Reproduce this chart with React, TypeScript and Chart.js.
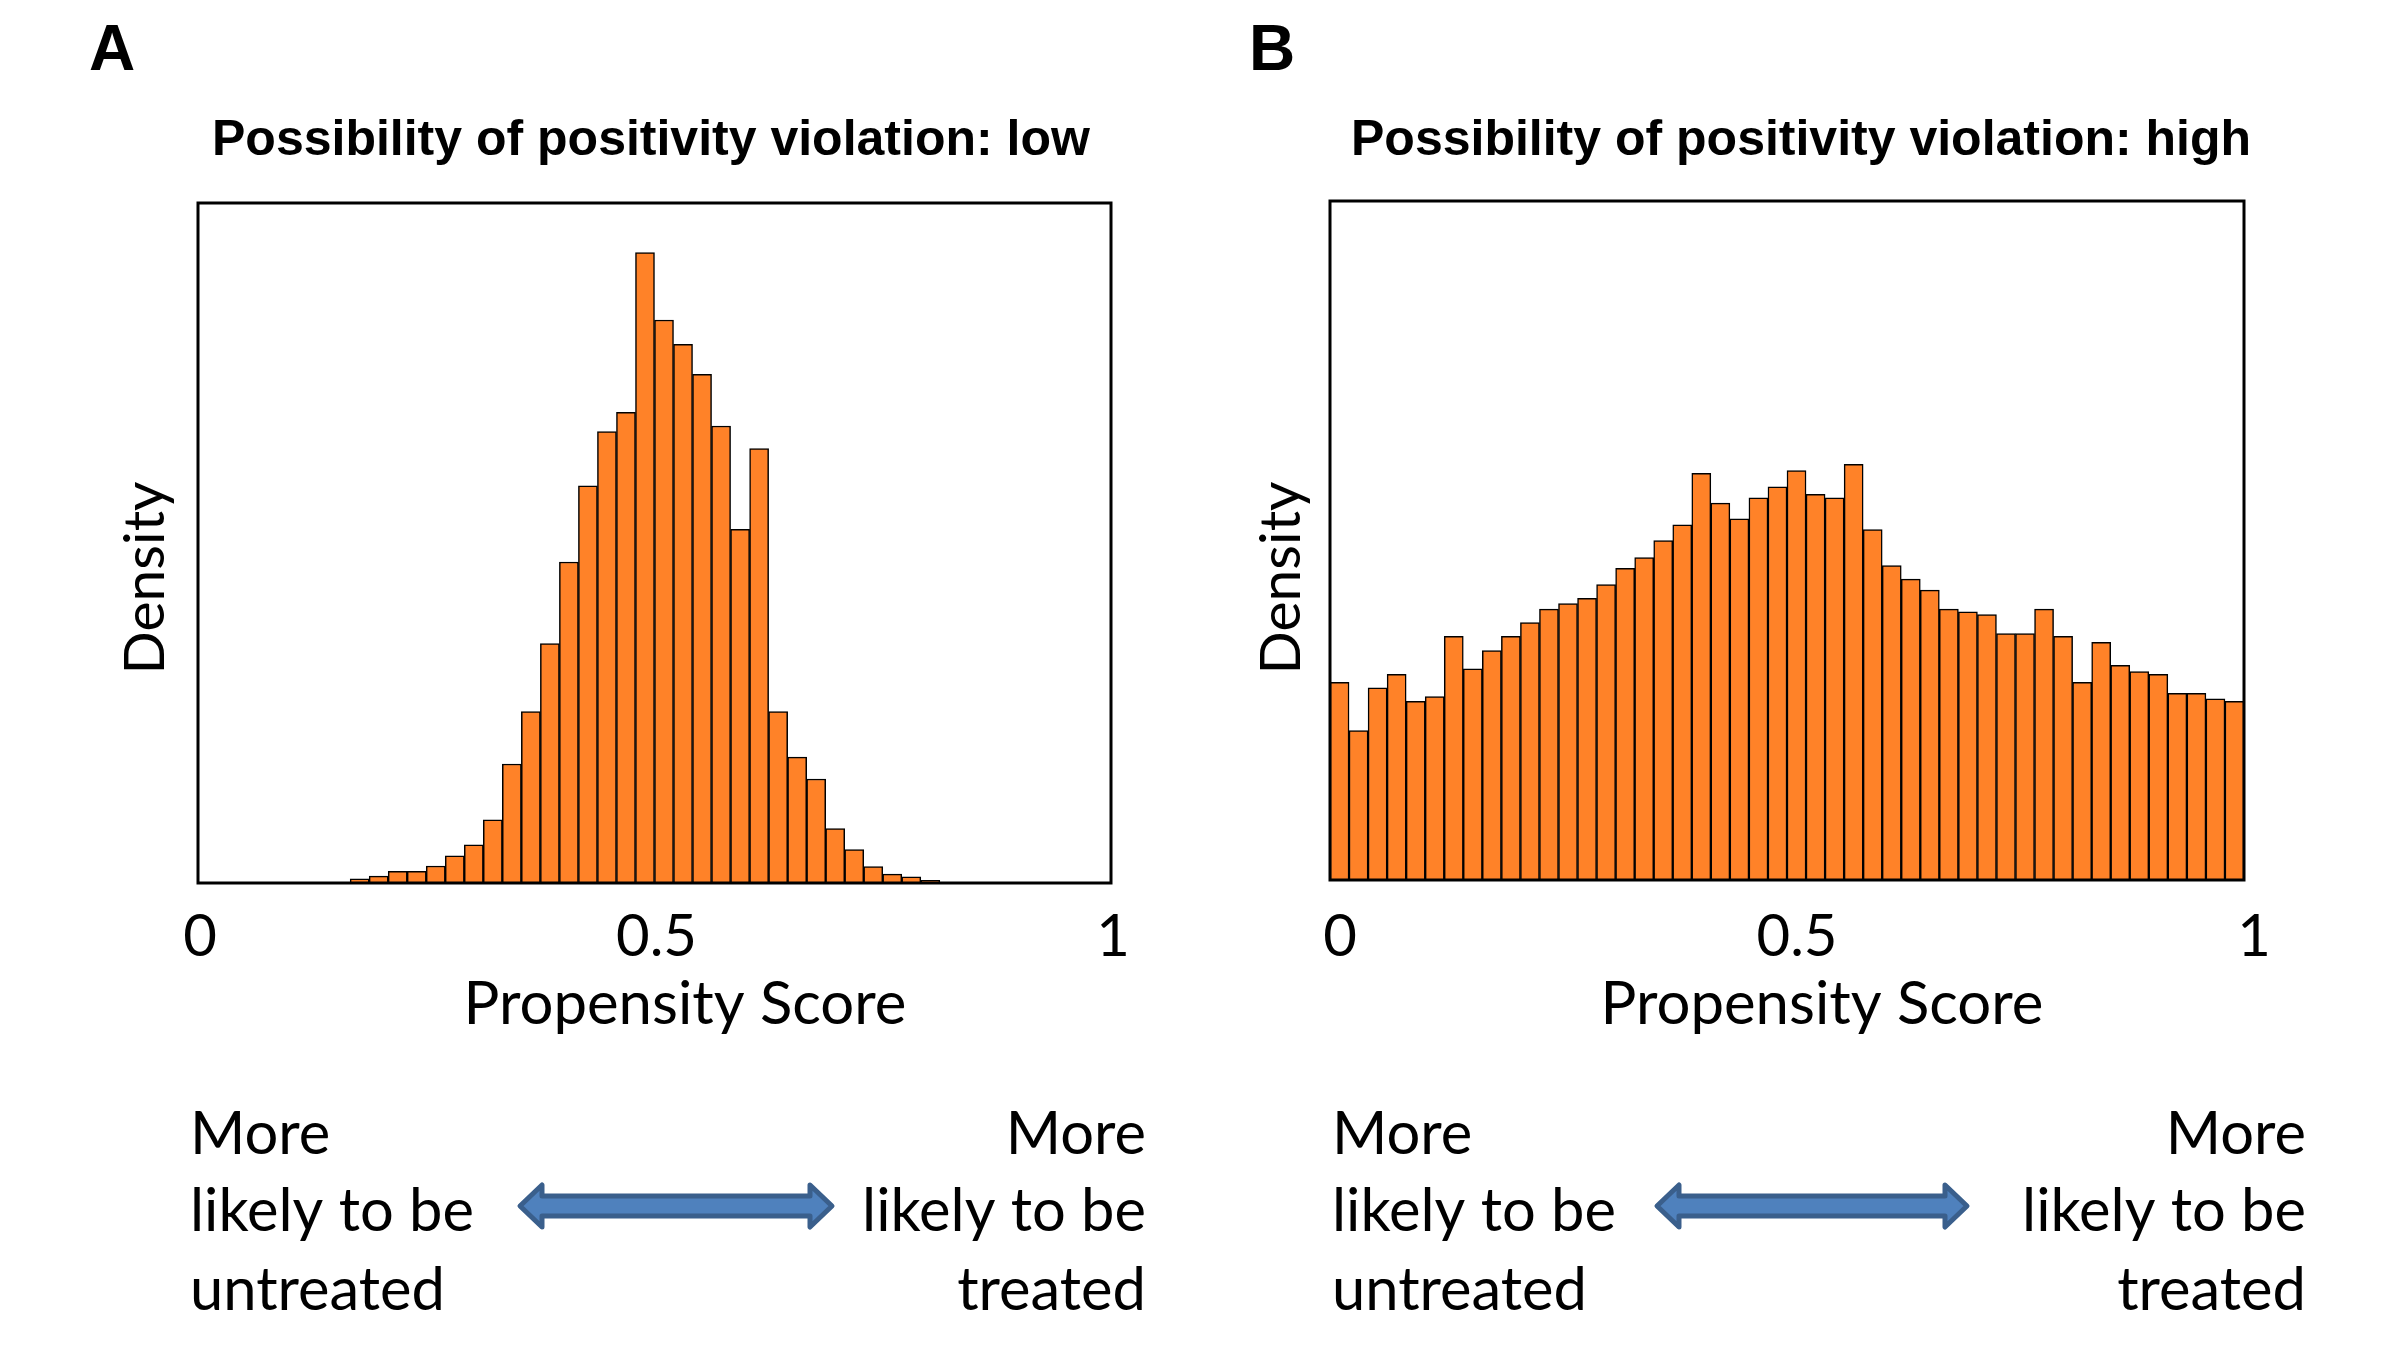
import React, { useEffect, useRef } from "react";
import { Chart, registerables } from "chart.js";

Chart.register(...registerables);

// ---------------- data ----------------
const BIN_WIDTH = 1 / 48;
const xTickValues = [0, 0.5, 1];
const xTickLabels = ["0", "0.5", "1"];

// density (relative to axis height) of each of the 48 bins, panel A
const lowViolationDensity = [
  0, 0, 0, 0, 0, 0, 0, 0,
  0.006, 0.01, 0.017, 0.017, 0.025, 0.04, 0.056, 0.093,
  0.175, 0.252, 0.352, 0.472, 0.584, 0.664, 0.692, 0.927,
  0.828, 0.792, 0.748, 0.672, 0.52, 0.639, 0.252, 0.185,
  0.153, 0.08, 0.049, 0.024, 0.013, 0.009, 0.004, 0,
  0, 0, 0, 0, 0, 0, 0, 0,
];

// panel B
const highViolationDensity = [
  0.291, 0.22, 0.283, 0.303, 0.263, 0.27, 0.359, 0.311,
  0.338, 0.359, 0.379, 0.399, 0.407, 0.415, 0.435, 0.459,
  0.475, 0.5, 0.523, 0.599, 0.555, 0.532, 0.563, 0.579,
  0.603, 0.568, 0.563, 0.612, 0.516, 0.463, 0.443, 0.427,
  0.399, 0.395, 0.391, 0.363, 0.363, 0.399, 0.359, 0.291,
  0.35, 0.316, 0.307, 0.303, 0.275, 0.275, 0.267, 0.263,
];

const panelLetters = ["A", "B"];
const panelTitles = [
  "Possibility of positivity violation: low",
  "Possibility of positivity violation: high",
];
const xAxisTitle = "Propensity Score";
const yAxisTitle = "Density";
const leftNoteLines = ["More", "likely to be", "untreated"];
const rightNoteLines = ["More", "likely to be", "treated"];

// ---------------- styling ----------------
const BAR_FILL = "#FF8228";
const ARROW_FILL = "#4F81BD";
const ARROW_STROKE = "#3A5F8C";
const HUMANIST = 'Lato, "Open Sans", sans-serif';
const ARIAL = '"Liberation Sans", Arial, sans-serif';

const CANVAS_W = 1196;
const CANVAS_H = 1350;

function fitFont(ctx: CanvasRenderingContext2D, text: string, target: number, family: string) {
  ctx.font = `100px ${family}`;
  const w = ctx.measureText(text).width;
  return (100 * target) / w;
}

function drawArrow(ctx: CanvasRenderingContext2D, x0: number, x1: number, cy: number) {
  const hh = 21;
  const sh = 10;
  const hl = 22;
  const a = x0 + 3;
  const b = x1 - 3;
  ctx.beginPath();
  ctx.moveTo(a, cy);
  ctx.lineTo(a + hl, cy - hh);
  ctx.lineTo(a + hl, cy - sh);
  ctx.lineTo(b - hl, cy - sh);
  ctx.lineTo(b - hl, cy - hh);
  ctx.lineTo(b, cy);
  ctx.lineTo(b - hl, cy + hh);
  ctx.lineTo(b - hl, cy + sh);
  ctx.lineTo(a + hl, cy + sh);
  ctx.lineTo(a + hl, cy + hh);
  ctx.closePath();
  ctx.fillStyle = ARROW_FILL;
  ctx.fill();
  ctx.lineWidth = 5;
  ctx.lineJoin = "round";
  ctx.strokeStyle = ARROW_STROKE;
  ctx.stroke();
}

const annotatePlugin = {
  id: "annotate",
  afterDatasetsDraw(chart: any) {
    const { ctx, chartArea } = chart;
    ctx.save();
    ctx.strokeStyle = "#000";
    ctx.lineWidth = 3;
    ctx.strokeRect(chartArea.left, chartArea.top, chartArea.right - chartArea.left, chartArea.bottom - chartArea.top);
    ctx.restore();
  },
  afterDraw(chart: any, _args: any, o: any) {
    const ctx: CanvasRenderingContext2D = chart.ctx;
    ctx.save();
    ctx.fillStyle = "#000";
    ctx.textBaseline = "alphabetic";

    // panel letter
    ctx.textAlign = "left";
    ctx.font = `bold 64px ${ARIAL}`;
    ctx.fillText(o.letter, o.letterX, 70);

    // title
    ctx.font = `bold 50px ${ARIAL}`;
    ctx.fillText(o.title, o.titleX, 155);

    // y axis title (rotated)
    const ySize = fitFont(ctx, yAxisTitle, 193, HUMANIST);
    ctx.save();
    ctx.translate(o.yTitleX, 578);
    ctx.rotate(-Math.PI / 2);
    ctx.textAlign = "center";
    ctx.font = `${ySize}px ${HUMANIST}`;
    ctx.fillText(yAxisTitle, 0, 0);
    ctx.restore();

    // x axis title
    const xSize = fitFont(ctx, xAxisTitle, 443, HUMANIST);
    ctx.textAlign = "center";
    ctx.font = `${xSize}px ${HUMANIST}`;
    ctx.fillText(xAxisTitle, o.xTitleX, 1024);

    // notes
    const nSize = fitFont(ctx, "likely to be", 284, HUMANIST);
    ctx.font = `${nSize}px ${HUMANIST}`;
    const baselines = [1154, 1231, 1310];
    ctx.textAlign = "left";
    leftNoteLines.forEach((t, i) => ctx.fillText(t, o.noteLeftX, baselines[i]));
    ctx.textAlign = "right";
    rightNoteLines.forEach((t, i) => ctx.fillText(t, o.noteRightX, baselines[i]));

    drawArrow(ctx, o.arrowX0, o.arrowX1, 1206);
    ctx.restore();
  },
};

type PanelCfg = {
  values: number[];
  letter: string;
  title: string;
  padding: { left: number; top: number; right: number; bottom: number };
  tickPad: number;
  labelOffset: number;
  ann: any;
};

function Panel({ cfg, left }: { cfg: PanelCfg; left: number }) {
  const ref = useRef<HTMLCanvasElement>(null);
  useEffect(() => {
    const data = cfg.values.map((v, i) => ({ x: (i + 0.5) * BIN_WIDTH, y: v > 0 ? v : null }));
    const chart = new Chart(ref.current as HTMLCanvasElement, {
      type: "bar",
      data: {
        datasets: [
          {
            data: data as any,
            backgroundColor: BAR_FILL,
            borderColor: "#000",
            borderWidth: 1.5,
            barPercentage: 1,
            categoryPercentage: 1,
            borderSkipped: "start",
          },
        ],
      },
      options: {
        responsive: false,
        animation: false,
        devicePixelRatio: 1,
        layout: { padding: cfg.padding },
        plugins: {
          legend: { display: false },
          tooltip: { enabled: false },
          title: { display: false },
          annotate: { letter: cfg.letter, title: cfg.title, ...cfg.ann },
        } as any,
        scales: {
          x: {
            type: "linear",
            min: 0,
            max: 1,
            offset: false,
            grid: { display: false, drawTicks: false, offset: false },
            border: { display: false },
            afterBuildTicks: (s: any) => {
              s.ticks = xTickValues.map((v) => ({ value: v }));
            },
            ticks: {
              padding: cfg.tickPad,
              labelOffset: cfg.labelOffset,
              color: "#000",
              font: { family: HUMANIST, size: 58 },
              maxRotation: 0,
              autoSkip: false,
              callback: (value: any) => {
                const idx = xTickValues.indexOf(Number(value));
                return idx >= 0 ? xTickLabels[idx] : "";
              },
            },
            afterFit: (s: any) => {
              s.height = 100;
            },
          },
          y: { display: false, min: 0, max: 1 },
        },
      },
      plugins: [annotatePlugin],
    } as any);
    return () => chart.destroy();
  }, []);
  return (
    <canvas
      ref={ref}
      width={CANVAS_W}
      height={CANVAS_H}
      style={{ position: "absolute", left, top: 0, width: CANVAS_W, height: CANVAS_H }}
    />
  );
}

const panelA: PanelCfg = {
  values: lowViolationDensity,
  letter: panelLetters[0],
  title: panelTitles[0],
  padding: { left: 198, top: 203, right: CANVAS_W - 1111, bottom: CANVAS_H - 883 - 100 },
  tickPad: 19,
  labelOffset: 2,
  ann: {
    letterX: 89,
    titleX: 212,
    yTitleX: 164,
    xTitleX: 685,
    noteLeftX: 190,
    noteRightX: 1146,
    arrowX0: 517,
    arrowX1: 835,
  },
};

const panelB: PanelCfg = {
  values: highViolationDensity,
  letter: panelLetters[1],
  title: panelTitles[1],
  padding: { left: 134, top: 201, right: CANVAS_W - 1048, bottom: CANVAS_H - 880 - 100 },
  tickPad: 22,
  labelOffset: 10,
  ann: {
    letterX: 53,
    titleX: 155,
    yTitleX: 104,
    xTitleX: 626,
    noteLeftX: 136,
    noteRightX: 1110,
    arrowX0: 458,
    arrowX1: 774,
  },
};

export default function App() {
  return (
    <div style={{ position: "absolute", left: 0, top: 0, width: 2392, height: 1350, background: "#fff", overflow: "hidden" }}>
      <Panel cfg={panelA} left={0} />
      <Panel cfg={panelB} left={1196} />
    </div>
  );
}
